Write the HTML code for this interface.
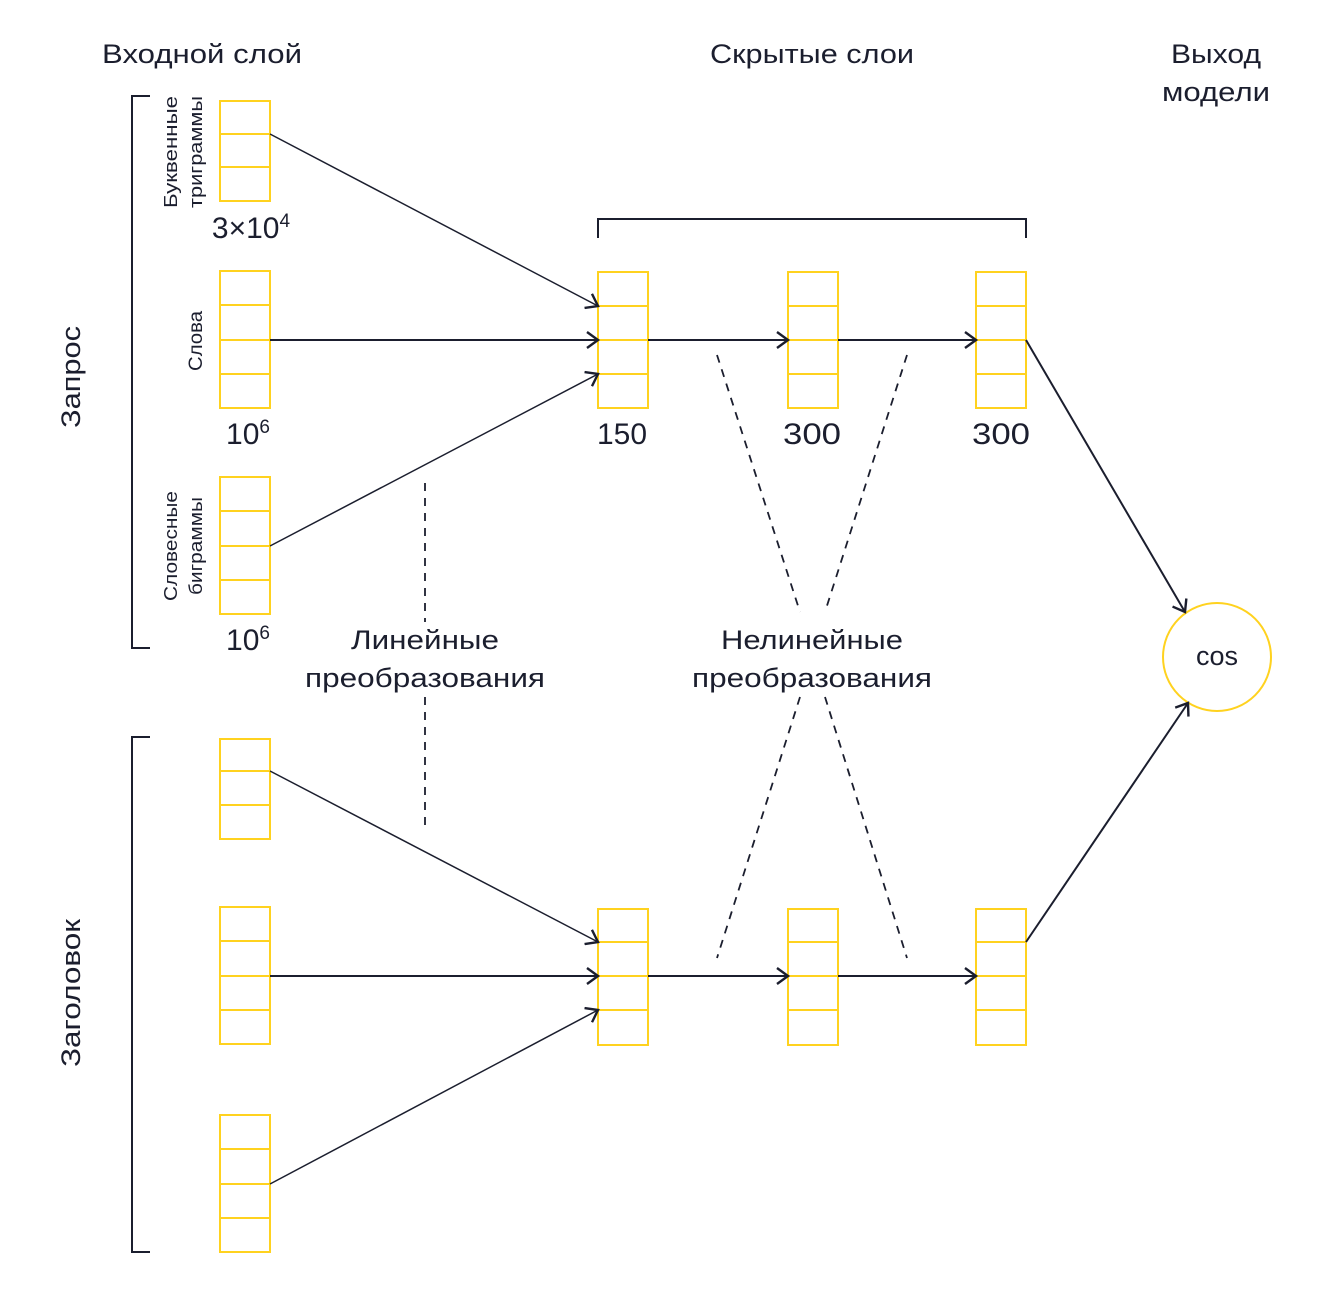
<!DOCTYPE html>
<html><head><meta charset="utf-8"><style>html,body{margin:0;padding:0;background:#fff}svg{display:block}text{font-family:"Liberation Sans","DejaVu Sans",sans-serif;fill:#1b1e2e}</style></head>
<body>
<svg width="1330" height="1304" viewBox="0 0 1330 1304" xmlns="http://www.w3.org/2000/svg">
<defs>
<marker id="a" markerWidth="18" markerHeight="18" refX="14" refY="9" orient="auto" markerUnits="userSpaceOnUse">
<path d="M3,1 L14,9 L3,17" fill="none" stroke="#1b1e2e" stroke-width="2.4"/>
</marker>
</defs>
<g fill="none" stroke="#ffd21f" stroke-width="2">
<rect x="220" y="101" width="50" height="100"/><path d="M220,134H270M220,167H270"/>
<rect x="220" y="271" width="50" height="137"/><path d="M220,305H270M220,340H270M220,374H270"/>
<rect x="220" y="477" width="50" height="137"/><path d="M220,511H270M220,546H270M220,580H270"/>
<rect x="598" y="272" width="50" height="136"/><path d="M598,306H648M598,340H648M598,374H648"/>
<rect x="788" y="272" width="50" height="136"/><path d="M788,306H838M788,340H838M788,374H838"/>
<rect x="976" y="272" width="50" height="136"/><path d="M976,306H1026M976,340H1026M976,374H1026"/>
<rect x="220" y="739" width="50" height="100"/><path d="M220,771H270M220,805H270"/>
<rect x="220" y="907" width="50" height="137"/><path d="M220,941H270M220,976H270M220,1010H270"/>
<rect x="220" y="1115" width="50" height="137"/><path d="M220,1149H270M220,1184H270M220,1218H270"/>
<rect x="598" y="909" width="50" height="136"/><path d="M598,942H648M598,976H648M598,1010H648"/>
<rect x="788" y="909" width="50" height="136"/><path d="M788,942H838M788,976H838M788,1010H838"/>
<rect x="976" y="909" width="50" height="136"/><path d="M976,942H1026M976,976H1026M976,1010H1026"/>
<circle cx="1217" cy="657" r="54"/>
</g>
<g stroke="#1b1e2e" stroke-width="1.5" fill="none">
<line x1="270" y1="134" x2="598" y2="306" marker-end="url(#a)"/>
<line x1="270" y1="340" x2="598" y2="340" stroke-width="2" marker-end="url(#a)"/>
<line x1="270" y1="546" x2="598" y2="374" marker-end="url(#a)"/>
<line x1="648" y1="340" x2="788" y2="340" stroke-width="2" marker-end="url(#a)"/>
<line x1="838" y1="340" x2="976" y2="340" stroke-width="2" marker-end="url(#a)"/>
<line x1="1026" y1="340" x2="1185" y2="612" stroke-width="2" marker-end="url(#a)"/>
<line x1="270" y1="771" x2="598" y2="942" marker-end="url(#a)"/>
<line x1="270" y1="976" x2="598" y2="976" stroke-width="2" marker-end="url(#a)"/>
<line x1="270" y1="1184" x2="598" y2="1010" marker-end="url(#a)"/>
<line x1="648" y1="976" x2="788" y2="976" stroke-width="2" marker-end="url(#a)"/>
<line x1="838" y1="976" x2="976" y2="976" stroke-width="2" marker-end="url(#a)"/>
<line x1="1026" y1="942" x2="1188" y2="703" stroke-width="2" marker-end="url(#a)"/>
<path d="M150,96H132V648H150M150,737H132V1252H150" stroke-width="2"/>
<path d="M598,238V219H1026V238" stroke-width="2"/>
<g stroke-dasharray="8,7" stroke-width="1.8">
<line x1="425" y1="483" x2="425" y2="622"/>
<line x1="425" y1="697" x2="425" y2="832"/>
<line x1="717" y1="355" x2="800" y2="612"/>
<line x1="907" y1="355" x2="825" y2="612"/>
<line x1="800" y1="697" x2="717" y2="958"/>
<line x1="825" y1="697" x2="907" y2="958"/>
</g>
</g>
<g font-size="27" text-anchor="middle">
<text x="202" y="63" textLength="200" lengthAdjust="spacingAndGlyphs">Входной слой</text>
<text x="812" y="63" textLength="204" lengthAdjust="spacingAndGlyphs">Скрытые слои</text>
<text x="1216" y="63" textLength="90" lengthAdjust="spacingAndGlyphs">Выход</text>
<text x="1216" y="101" textLength="108" lengthAdjust="spacingAndGlyphs">модели</text>
<text x="425" y="649" textLength="148" lengthAdjust="spacingAndGlyphs">Линейные</text>
<text x="425" y="687" textLength="240" lengthAdjust="spacingAndGlyphs">преобразования</text>
<text x="812" y="649" textLength="182" lengthAdjust="spacingAndGlyphs">Нелинейные</text>
<text x="812" y="687" textLength="240" lengthAdjust="spacingAndGlyphs">преобразования</text>
<text x="1217" y="665">cos</text>
<text transform="translate(80,377) rotate(-90)" textLength="102" lengthAdjust="spacingAndGlyphs">Запрос</text>
<text transform="translate(80,993) rotate(-90)" textLength="148" lengthAdjust="spacingAndGlyphs">Заголовок</text>
</g>
<g font-size="30" text-anchor="middle">
<text x="251" y="238">3×10<tspan font-size="19" dy="-11">4</tspan></text>
<text x="248" y="444">10<tspan font-size="19" dy="-11">6</tspan></text>
<text x="248" y="650">10<tspan font-size="19" dy="-11">6</tspan></text>
<text x="622" y="444" textLength="50" lengthAdjust="spacingAndGlyphs">150</text>
<text x="812" y="444" textLength="58" lengthAdjust="spacingAndGlyphs">300</text>
<text x="1001" y="444" textLength="58" lengthAdjust="spacingAndGlyphs">300</text>
</g>
<g font-size="18" text-anchor="middle">
<text transform="translate(177,152) rotate(-90)" textLength="112" lengthAdjust="spacingAndGlyphs">Буквенные</text>
<text transform="translate(202,152) rotate(-90)" textLength="112" lengthAdjust="spacingAndGlyphs">триграммы</text>
<text transform="translate(202,341) rotate(-90)" font-size="19" textLength="60" lengthAdjust="spacingAndGlyphs">Слова</text>
<text transform="translate(177,546) rotate(-90)" textLength="110" lengthAdjust="spacingAndGlyphs">Словесные</text>
<text transform="translate(202,546) rotate(-90)" textLength="98" lengthAdjust="spacingAndGlyphs">биграммы</text>
</g>
</svg>
</body></html>
